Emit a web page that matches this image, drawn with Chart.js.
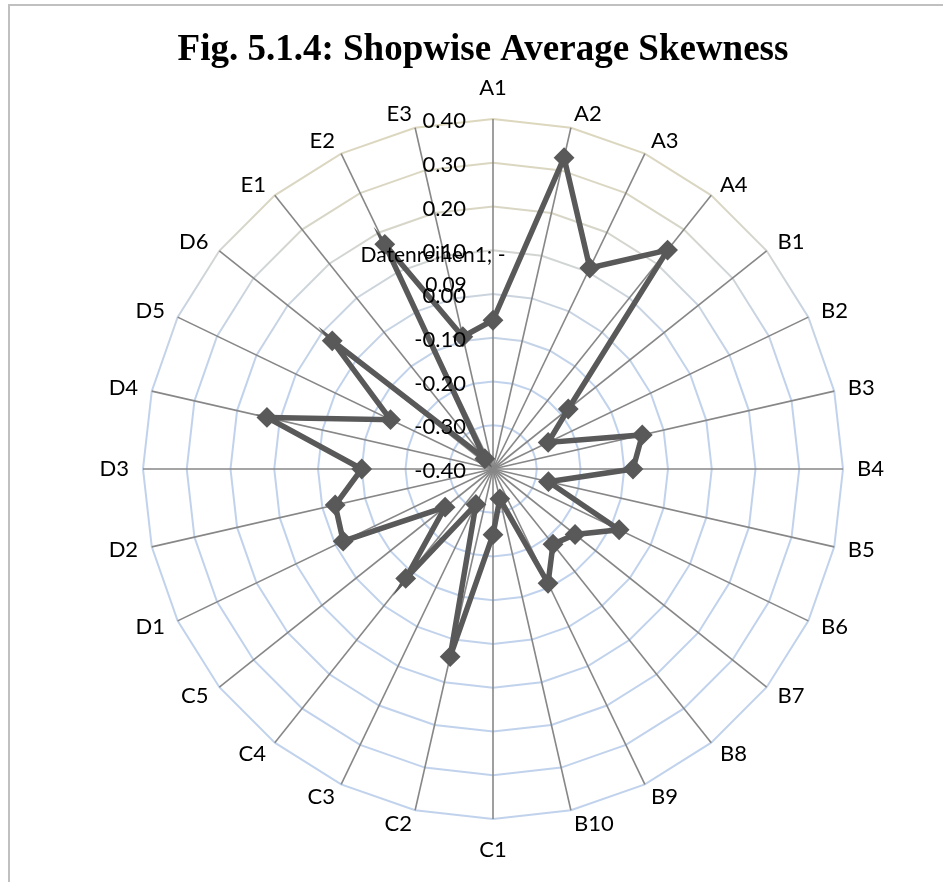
<!DOCTYPE html>
<html>
<head>
<meta charset="utf-8">
<title>Shopwise Average Skewness</title>
<script src="https://cdn.jsdelivr.net/npm/chart.js@4.4.1/dist/chart.umd.min.js"></script>
<style>
    html, body { margin: 0; padding: 0; background: #fff; }
    #wrap { position: relative; width: 943px; height: 882px; }
</style>
</head>
<body>
<div id="wrap"><canvas id="skewChart"></canvas></div>
<script>
// shops, clockwise from the top
const shops = ['A1', 'A2', 'A3', 'A4',
    'B1', 'B2', 'B3', 'B4', 'B5', 'B6', 'B7', 'B8', 'B9', 'B10',
    'C1', 'C2', 'C3', 'C4', 'C5',
    'D1', 'D2', 'D3', 'D4', 'D5', 'D6',
    'E1', 'E2', 'E3'];

// average skewness per shop
const avgSkewness = [-0.06, 0.33, 0.11, 0.24,
    -0.18, -0.26, -0.05, -0.08, -0.27, -0.08, -0.16, -0.18, -0.11, -0.33,
    -0.25, 0.04, -0.31, -0.08, -0.26,
    -0.02, -0.03, -0.10, 0.13, -0.14, 0.07,
    -0.37, 0.17, -0.09];

const tickValues = [-0.40, -0.30, -0.20, -0.10, 0.00, 0.10, 0.20, 0.30, 0.40];
const seriesName = 'Datenreihen1';
const titleText = 'Fig. 5.1.4: Shopwise Average Skewness';

const labelFont = '22px Lato, "Open Sans", sans-serif';

// ring colour fades from khaki at the top into light blue
let ringGradient = null;
function ringColor(c) {
    const area = c.chart.chartArea;
    if (!area) return '#c3d3ea';
    if (!ringGradient) {
        const h = area.bottom - area.top;
        ringGradient = c.chart.ctx.createLinearGradient(0, area.top, 0, area.bottom);
        ringGradient.addColorStop(0, '#dcd7bd');
        ringGradient.addColorStop(90 / h, '#d9d6c4');
        ringGradient.addColorStop(190 / h, '#c9d4e2');
        ringGradient.addColorStop(260 / h, '#c0d2ec');
        ringGradient.addColorStop(1, '#c0d2ec');
    }
    return ringGradient;
}

// frame, title, axis numbers, category names and the one data label
const textLayer = {
    id: 'textLayer',
    beforeDraw(chart) {
        const ctx = chart.ctx;
        ctx.save();
        ctx.fillStyle = '#fff';
        ctx.fillRect(0, 0, chart.width, chart.height);
        ctx.strokeStyle = '#c0c0c0';
        ctx.lineWidth = 2;
        ctx.beginPath();
        ctx.moveTo(9, chart.height);
        ctx.lineTo(9, 5);
        ctx.lineTo(chart.width, 5);
        ctx.stroke();

        // title sits a little left of the plot centre, as in the original
        ctx.fillStyle = '#000';
        ctx.font = 'bold 37px "Liberation Serif", "Times New Roman", serif';
        ctx.textAlign = 'center';
        ctx.textBaseline = 'middle';
        ctx.fillText(titleText, 483, 50);
        ctx.restore();
    },
    afterDatasetsDraw(chart) {
        const ctx = chart.ctx;
        const r = chart.scales.r;
        ctx.save();
        ctx.fillStyle = '#000';
        ctx.font = labelFont;

        // axis values, right aligned left of the A1 spoke
        ctx.textAlign = 'right';
        ctx.textBaseline = 'middle';
        tickValues.forEach(v => {
            const d = r.getDistanceFromCenterForValue(v);
            ctx.fillText(v.toFixed(2), r.xCenter - 27, r.yCenter - d + 2);
        });

        // category names: text edge on the spoke, vertically centred
        const n = shops.length;
        shops.forEach((name, i) => {
            const deg = i * 360 / n;
            if (deg === 0 || Math.abs(deg - 180) < 0.01) {
                const p = r.getPointPosition(i, r.drawingArea + 31);
                ctx.textAlign = 'center';
                ctx.fillText(name, p.x, p.y);
                return;
            }
            const p = r.getPointPosition(i, r.drawingArea + 14);
            ctx.textAlign = deg < 180 ? 'left' : 'right';
            ctx.fillText(name, p.x, p.y);
        });

        // data label of E3, wrapped as in the original
        const last = n - 1;
        const val = avgSkewness[last].toFixed(2);
        ctx.font = '21px Lato, "Open Sans", sans-serif';
        ctx.textAlign = 'center';
        ctx.fillText(seriesName + '; ' + val.charAt(0), r.xCenter - 60, 255);
        ctx.fillText(val.slice(1), r.xCenter - 47, 285);
        ctx.restore();
    }
};

new Chart(document.getElementById('skewChart'), {
    type: 'radar',
    data: {
        labels: shops,
        datasets: [{
            label: seriesName,
            data: avgSkewness,
            borderColor: '#595959',
            borderWidth: 5.5,
            fill: false,
            pointStyle: 'rectRot',
            pointRadius: 9,
            pointBorderWidth: 2,
            pointBackgroundColor: '#595959',
            pointBorderColor: '#595959'
        }]
    },
    options: {
        responsive: true,
        maintainAspectRatio: false,
        animation: false,
        layout: {
            padding: { left: 143, right: 100, top: 119, bottom: 63 }
        },
        elements: { line: { tension: 0 } },
        scales: {
            r: {
                min: -0.4,
                max: 0.4,
                ticks: { display: false, stepSize: 0.1 },
                pointLabels: { display: false },
                grid: { color: ringColor, lineWidth: 2 },
                angleLines: { color: '#878787', lineWidth: 1.6 }
            }
        },
        plugins: {
            legend: { display: false },
            tooltip: { enabled: false },
            title: { display: false }
        }
    },
    plugins: [textLayer]
});
</script>
</body>
</html>
